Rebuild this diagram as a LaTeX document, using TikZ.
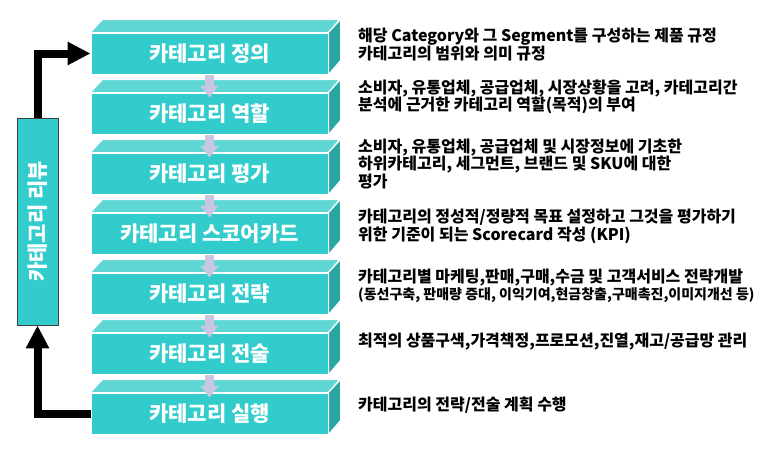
\documentclass[tikz,border=0pt]{standalone}
\usepackage{fontspec}
\setmainfont{Noto Sans CJK KR}
\usetikzlibrary{arrows.meta}
\definecolor{tealfront}{HTML}{33CCCC}
\definecolor{tealtop}{HTML}{5ED6D4}
\definecolor{tealside}{HTML}{2AA6A2}
\definecolor{lav}{HTML}{C8C6E2}
\begin{document}
\begin{tikzpicture}[x=1pt,y=-1pt,
 front/.style={fill=tealfront, draw=white, line width=1pt, minimum width=237pt, minimum height=41pt, inner sep=0pt, text=white, font=\fontsize{21}{24}\selectfont\bfseries},
 topface/.style={fill=tealtop, draw=white, line width=1pt},
 sideface/.style={fill=tealside, draw=white, line width=1pt},
 flow/.style={draw=lav, line width=9pt, -{Triangle[width=18pt,length=12pt]}},
 backarrow/.style={draw=black, line width=8pt, line join=miter, -{Triangle[width=22pt,length=23pt]}},
 review/.style={fill=tealfront, draw=black!75, line width=0.8pt, minimum width=207pt, minimum height=41pt, inner sep=0pt, text=white, font=\fontsize{21}{24}\selectfont\bfseries},
 desc/.style={anchor=west, align=left, inner sep=0pt, font=\fontsize{16}{17.5}\selectfont\bfseries}
]
\useasboundingbox (0,0) rectangle (773,448);
\foreach \i/\t in {1/카테고리 정의, 2/카테고리 역할, 3/카테고리 평가, 4/카테고리 스코어카드, 5/카테고리 전략, 6/카테고리 전술, 7/카테고리 실행}{
  \node[front] (b\i) at (209.5, {53.5+60*(\i-1)}) {\t};
  \draw[topface] (b\i.north west) -- ++(12,-13) -- ++(237,0) -- (b\i.north east) -- cycle;
  \draw[sideface] (b\i.north east) -- ++(12,-13) -- ++(0,41) -- (b\i.south east) -- cycle;
}
\foreach \i [evaluate=\i as \j using int(\i+1)] in {1,...,6}{
  \draw[flow] (b\i.south) -- ([yshift=-5pt]b\j.north);
}
\node[review, rotate=90] (rv) at (37.5, 221.5) {카테고리 리뷰};
\draw[backarrow] (rv.east) |- (b1.west);
\draw[backarrow] (b7.west) -| (rv.west);

\node[desc] (d1) at (358,44.5) {해당 Category와 그 Segment를 구성하는 제품 규정\\카테고리의 범위와 의미 규정};
\node[desc] (d2) at (358,97) {소비자, 유통업체, 공급업체, 시장상황을 고려, 카테고리간\\분석에 근거한 카테고리 역할(목적)의 부여};
\node[desc] (d3) at (358,164) {소비자, 유통업체, 공급업체 및 시장정보에 기초한\\하위카테고리, 세그먼트, 브랜드 및 SKU에 대한\\평가};
\node[desc] (d4) at (358,226.5) {카테고리의 정성적/정량적 목표 설정하고 그것을 평가하기\\위한 기준이 되는 Scorecard 작성 (KPI)};
\node[desc] (d5) at (358,286) {카테고리별 마케팅,판매,구매,수금 및 고객서비스 전략개발\\[-1pt]{\fontsize{14}{15}\selectfont (동선구축, 판매량 증대, 이익기여,현금창출,구매촉진,이미지개선 등)}};
\node[desc] (d6) at (358,342) {최적의 상품구색,가격책정,프로모션,진열,재고/공급망 관리};
\node[desc] (d7) at (358,405) {카테고리의 전략/전술 계획 수행};
\end{tikzpicture}
\end{document}
